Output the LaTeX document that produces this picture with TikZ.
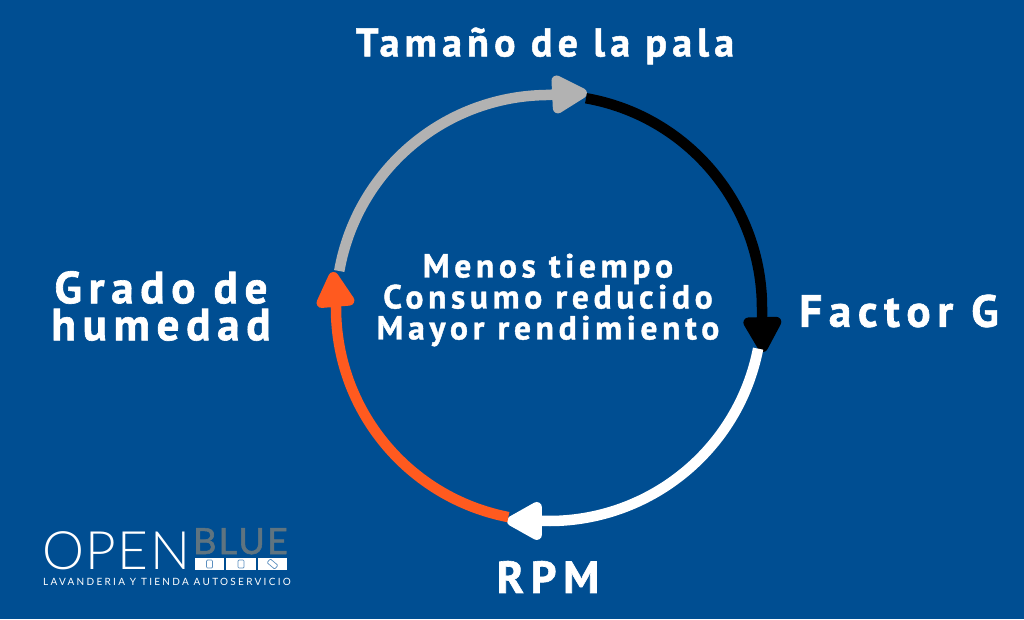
\documentclass[tikz,border=0pt]{standalone}
\usepackage{fontspec}
\usetikzlibrary{arrows.meta}
\setmainfont{Fira Sans}
\newfontfamily\labelfont[LetterSpace=13,FakeBold=1.2]{PT Sans Bold}
\newfontfamily\midfont[LetterSpace=14,FakeBold=1.2]{PT Sans Bold}
\newfontfamily\widefont[LetterSpace=15,FakeBold=1.4]{PT Sans Bold}
\newfontfamily\thinfont[LetterSpace=3]{Lato Light}
\newfontfamily\logofont[LetterSpace=23]{Lato}
\newfontfamily\bluefont[LetterSpace=6,FakeBold=1.5]{Lato}
\definecolor{panelblue}{HTML}{004E92}
\definecolor{ringgray}{HTML}{B2B2B2}
\definecolor{ringorange}{HTML}{FF5A1F}
\definecolor{logogray}{HTML}{5F7480}
\definecolor{iconblue}{HTML}{5C8FBF}
\tikzset{
    ringarc/.style={line width=10.5pt,-{Triangle[round,length=41pt,width=42pt]}},
    bigtext/.style={text=white,font=\labelfont\fontsize{40}{40}\selectfont,align=center,inner sep=0pt},
    sidetext/.style={text=white,font=\widefont\fontsize{45}{37}\selectfont,align=center,inner sep=0pt},
    midtext/.style={text=white,font=\midfont\fontsize{33.5}{31}\selectfont,align=center,inner sep=0pt},
    tagbox/.style={fill=white,minimum width=#1,minimum height=12pt,inner sep=0pt},
    tagicon/.style={draw=iconblue,line width=0.7pt,rounded corners=1pt}
}
\begin{document}
\begin{tikzpicture}[x=1pt,y=1pt]
    \def\r{213}
    \fill[panelblue] (0,0) rectangle (1024,619);
    \useasboundingbox (0,0) rectangle (1024,619);
    \coordinate (center) at (549,311);
    \coordinate (toptip) at (587,526);
    \coordinate (righttip) at (763,267);
    \coordinate (bottomtip) at (507,98);
    \coordinate (lefttip) at (333,347);
    \coordinate (topstart) at ([shift={(80:\r)}]center);
    \coordinate (rightstart) at ([shift={(-11:\r)}]center);
    \coordinate (bottomstart) at ([shift={(-101:\r)}]center);
    \coordinate (leftstart) at ([shift={(170:\r)}]center);
    % the four arcs of the ring
    \draw[ringarc,ringgray] (leftstart) arc[start angle=170,end angle=91,radius=\r] -- (toptip);
    \draw[ringarc,black] (topstart) arc[start angle=80,end angle=0,radius=\r] -- (righttip);
    \draw[ringarc,white] (rightstart) arc[start angle=-11,end angle=-91,radius=\r] -- (bottomtip);
    \draw[ringarc,ringorange] (bottomstart) arc[start angle=-101,end angle=-180,radius=\r] -- (lefttip);
    % labels
    \node[bigtext] (pala) at (545,573) {Tamaño de la pala};
    \node[sidetext] (factor) at (899,308) {Factor G};
    \node[sidetext] (rpm) at (548,42) {RPM};
    \node[sidetext] (humedad) at (161,313) {Grado de\\humedad};
    \node[midtext] (centre) at (548,319) {Menos tiempo\\Consumo reducido\\Mayor rendimiento};
    % logo
    \node[anchor=base west,inner sep=0pt,text=white,font=\thinfont\fontsize{53}{53}\selectfont] (open) at (42,50) {OPEN};
    \node[anchor=base west,inner sep=0pt,text=logogray,font=\bluefont\fontsize{36}{36}\selectfont] (blue) at (193,65) {BLUE};
    \node[tagbox=29pt] (boxa) at (209.5,55) {};
    \node[tagbox=30pt] (boxb) at (241,55) {};
    \node[tagbox=29pt] (boxc) at (272.5,55) {};
    \draw[tagicon] (boxa.center) ++(-3,-4) rectangle ++(6,8);
    \draw[tagicon] (boxb.center) ++(-3,-4) rectangle ++(6,8);
    \draw[tagicon,rotate=-40] (boxc.center) ++(-5,-2.5) rectangle ++(10,5);
    \node[inner sep=0pt,text=white,font=\logofont\fontsize{10}{10}\selectfont] (tag) at (167,37) {LAVANDERIA Y TIENDA AUTOSERVICIO};
\end{tikzpicture}
\end{document}
